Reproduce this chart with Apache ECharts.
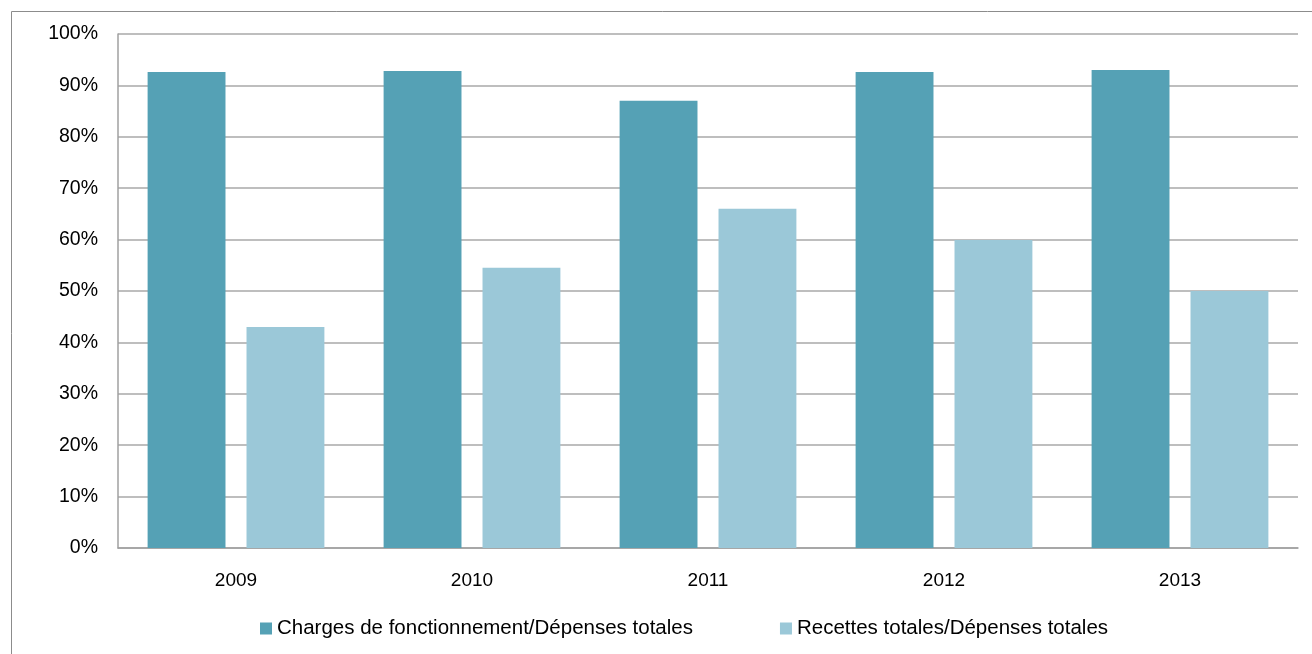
<!DOCTYPE html>
<html><head><meta charset="utf-8">
<script src="https://cdn.jsdelivr.net/npm/echarts@6/dist/echarts.min.js"></script>
<style>html,body{margin:0;padding:0;background:#fff}#c{width:1312px;height:654px}</style>
</head><body><div id="c"></div>
<script>
const categories = ['2009','2010','2011','2012','2013'];
const seriesNames = ['Charges de fonctionnement/Dépenses totales','Recettes totales/Dépenses totales'];
const charges = [92.6, 92.8, 87.0, 92.6, 93.0];
const recettes = [43.0, 54.5, 66.0, 59.9, 50.0];
const yTicks = [0,10,20,30,40,50,60,70,80,90,100];

const chart = echarts.init(document.getElementById('c'));
const font = 'Liberation Sans, Arial, sans-serif';
chart.setOption({
  animation: false,
  graphic: [{type:'rect', shape:{x:11.5,y:11.5,width:1330,height:680}, style:{fill:'none', stroke:'#8c8c8c', lineWidth:1}}],
  grid: {left:118, right:14, top:34, bottom:106},
  legend: {
    top: 613, left: 255, itemWidth: 12, itemHeight: 12, itemGap: 87,
    icon: 'rect',
    textStyle: {fontFamily: font, fontSize: 20.5, color:'#000'},
    data: seriesNames
  },
  xAxis: {
    type:'category', data: categories,
    axisLine:{lineStyle:{color:'#a0a0a0', width:1.5}},
    axisTick:{show:false},
    axisLabel:{fontFamily:font, fontSize:19, color:'#000', margin:23}
  },
  yAxis: {
    type:'value', min:0, max:100, interval:10,
    axisLine:{show:true, lineStyle:{color:'#a0a0a0', width:1.5}},
    axisTick:{show:false},
    splitLine:{lineStyle:{color:'#a8a8a8', width:1.5}},
    axisLabel:{fontFamily:font, fontSize:19.5, color:'#000', margin:20,
      formatter: v => yTicks.includes(v) ? v + '%' : ''}
  },
  series: [
    {name: seriesNames[0], type:'bar', data: charges, barWidth:'33%', barGap:'27%', itemStyle:{color:'#55a1b5'}},
    {name: seriesNames[1], type:'bar', data: recettes, barWidth:'33%', itemStyle:{color:'#9bc8d8'}}
  ]
});
</script></body></html>
